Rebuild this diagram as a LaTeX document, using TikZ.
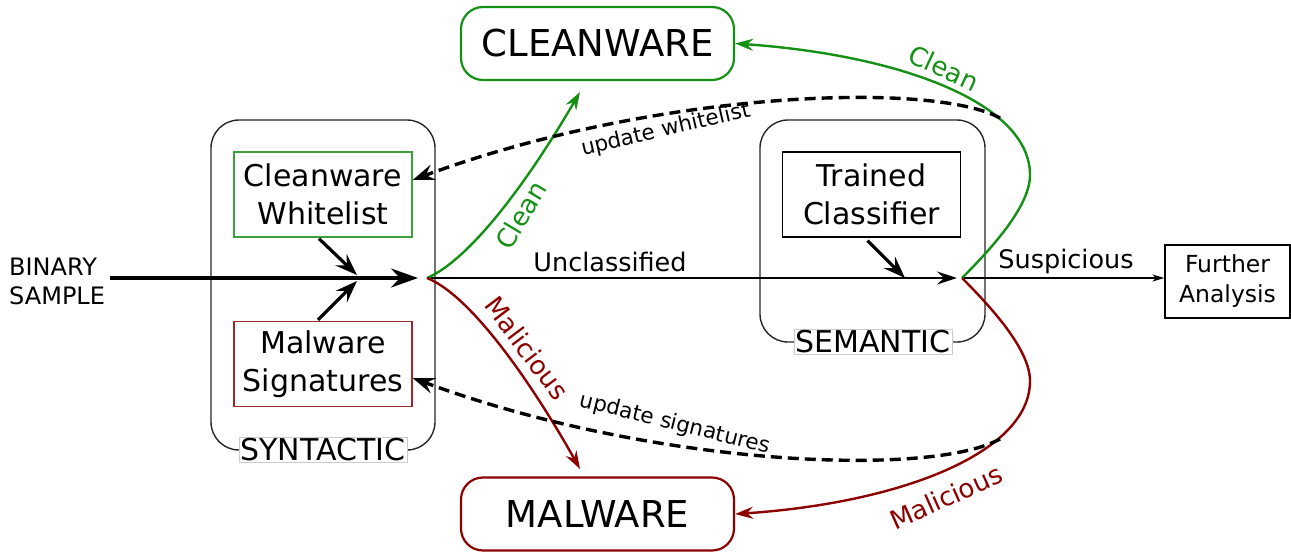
\documentclass[tikz,border=0pt]{standalone}
\usepackage{fontspec}
\setmainfont{DejaVu Sans}
\usetikzlibrary{arrows.meta}
\definecolor{cgreen}{RGB}{20,145,20}
\definecolor{boxgreen}{RGB}{60,160,60}
\definecolor{cred}{RGB}{140,0,0}
\definecolor{boxred}{RGB}{160,40,40}
\tikzset{
  container/.style={draw=black!85,line width=1.4pt,rounded corners=28pt},
  inbox/.style={draw,line width=1.3pt,minimum width=178pt,minimum height=85pt,align=center,inner sep=0pt,font=\fontsize{30}{38}\selectfont},
  outbox/.style={draw,line width=2.2pt,rounded corners=22pt,minimum width=273pt,minimum height=73pt,inner sep=0pt,font=\fontsize{37}{40}\selectfont},
  tag/.style={draw=black!20,fill=white,line width=0.8pt,inner sep=1.5pt,font=\fontsize{30}{32}\selectfont},
  lbl/.style={inner sep=0pt,font=\fontsize{26}{28}\selectfont},
  big/.style={-{Stealth[length=27pt,width=19pt,inset=9pt]},line width=3.6pt},
  mid/.style={-{Stealth[length=22pt,width=16pt,inset=8pt]},line width=3.2pt},
  curve/.style={-{Stealth[length=18pt,width=12pt,inset=6pt]},line width=2.4pt},
  dashline/.style={-{Stealth[length=22pt,width=16pt,inset=8pt]},line width=3.4pt,dash pattern=on 11pt off 6pt},
}
\begin{document}
\begin{tikzpicture}[x=1pt,y=-1pt]
\useasboundingbox (0,0) rectangle (1291,552);
% containers
\draw[container] (211,120) rectangle (435,450);
\draw[container] (760,120) rectangle (985,342);
\node[tag] (syn) at (323,450) {SYNTACTIC};
\node[tag] (sem) at (873,342) {SEMANTIC};
% inner boxes
\node[inbox,draw=boxgreen] (wl) at (323,194.5) {Cleanware\\Whitelist};
\node[inbox,draw=boxred] (sig) at (323,364) {Malware\\Signatures};
\node[inbox,draw=black] (tc) at (871.5,194.5) {Trained\\Classifier};
% outcome boxes
\node[outbox,draw=cgreen] (clean) at (597.5,43.5) {CLEANWARE};
\node[outbox,draw=cred] (mal) at (597.5,514) {MALWARE};
% further analysis
\node[draw,line width=1.3pt,minimum width=125pt,minimum height=73pt,align=center,inner sep=0pt,font=\fontsize{23.5}{30}\selectfont] (fa) at (1227.5,281.5) {Further\\Analysis};
% binary sample
\node[anchor=west,align=left,inner sep=0pt,font=\fontsize{24}{29}\selectfont] (bin) at (9,281) {BINARY\\SAMPLE};
% coordinates
\coordinate (j1) at (427,278);
\coordinate (j2) at (962,278);
\coordinate (m1) at (357,275);
\coordinate (m2) at (357,281);
\coordinate (m3) at (905,278);
\coordinate (s0) at (110,278);
% main arrow
\draw[big] (s0) -- (418,278);
\draw[mid] (wl.south) ++(-4,1) coordinate (wls) -- (m1);
\draw[mid] (sig.north) ++(-5,-1) coordinate (sgn) -- (m2);
\draw[mid] (tc.south) ++(-4,3) coordinate (tcs) -- (m3);
% unclassified
\draw[-{Stealth[length=20pt,width=13pt,inset=7pt]},line width=2.2pt] (j1) -- (957,278);
\node[lbl,font=\fontsize{25.5}{27}\selectfont] (uncl) at (610,262) {Unclassified};
% suspicious
\draw[-{Stealth[length=12pt,width=7pt,inset=3.5pt]},line width=1.3pt] (j2) -- (fa.west |- j2);
\node[lbl,font=\fontsize{25.5}{27}\selectfont] (susp) at (1066,261) {Suspicious};
% left curves
\draw[curve,cgreen] (j1) .. controls (465,262) and (520,195) .. (580,92);
\node[lbl,text=cgreen,rotate=59] (cl1) at (521,215) {Clean};
\draw[curve,cred] (j1) .. controls (470,295) and (530,380) .. (580,469);
\node[lbl,text=cred,rotate=-53] (ml1) at (527,348) {Malicious};
% right curves
\draw[curve,cgreen] (j2) .. controls (995,245) and (1030,205) .. (1030,175) .. controls (1030,103) and (900,55) .. (clean.east);
\node[lbl,text=cgreen,rotate=-25] (cl2) at (944,68) {Clean};
\draw[curve,cred] (j2) .. controls (995,311) and (1030,351) .. (1030,381) .. controls (1030,453) and (900,503) .. (mal.east);
\node[lbl,text=cred,rotate=24] (ml2) at (946,497) {Malicious};
% dashed updates
\coordinate (d1) at (1000,118);
\coordinate (d2) at (1000,439);
\draw[dashline] (d1) .. controls (930,80) and (650,92) .. (wl.east |- 0,180);
\node[lbl,font=\fontsize{21.5}{23}\selectfont,rotate=13] (uw) at (666,130) {update whitelist};
\draw[dashline] (d2) .. controls (930,478) and (650,466) .. (sig.east |- 0,378);
\node[lbl,font=\fontsize{21.5}{23}\selectfont,rotate=-14] (us) at (675,424) {update signatures};
\end{tikzpicture}
\end{document}
